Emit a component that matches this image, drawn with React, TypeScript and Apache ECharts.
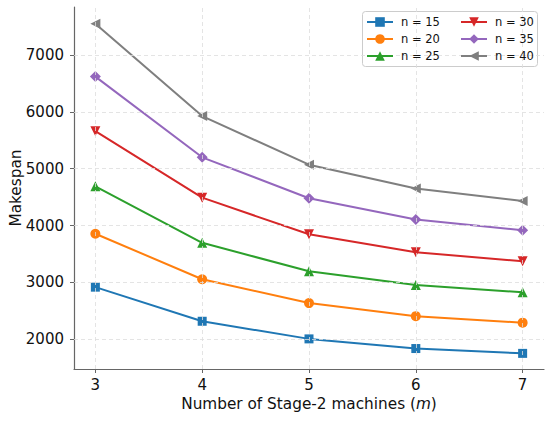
import React, { useEffect, useRef } from "react";
import * as echarts from "echarts";

const machines = [3, 4, 5, 6, 7];
const xTicks = [3, 4, 5, 6, 7];
const yTicks = [2000, 3000, 4000, 5000, 6000, 7000];

const n15 = [2915, 2315, 2005, 1835, 1750];
const n20 = [3855, 3055, 2635, 2405, 2290];
const n25 = [4690, 3695, 3195, 2955, 2825];
const n30 = [5660, 4490, 3845, 3530, 3370];
const n35 = [6620, 5200, 4480, 4105, 3915];
const n40 = [7550, 5925, 5070, 4650, 4430];

const seriesNames = ["n = 15", "n = 20", "n = 25", "n = 30", "n = 35", "n = 40"];
const seriesValues = [n15, n20, n25, n30, n35, n40];
const colors = ["#1f77b4", "#ff7f0e", "#2ca02c", "#d62728", "#9467bd", "#7f7f7f"];
const symbols = ["rect", "circle", "triangle", "triangle", "diamond", "triangle"];
const rotations = [0, 0, 0, 180, 0, 90];
const sizes = [9, 10, 10, 10, 11, 10];

const FONT = "DejaVu Sans";

export default function App() {
  const ref = useRef<HTMLDivElement>(null);
  useEffect(() => {
    if (!ref.current) return;
    const chart = echarts.init(ref.current, null, { renderer: "svg" });
    const gridStyle = { color: "#dddddd", type: [4, 3], width: 0.8 };
    const lineSeries = seriesNames.map((name, i) => ({
      name,
      type: "line",
      z: 3,
      data: machines.map((m, j) => [m, seriesValues[i][j]]),
      symbol: symbols[i],
      symbolSize: sizes[i],
      symbolRotate: rotations[i],
      showAllSymbol: true,
      lineStyle: { color: colors[i], width: 2 },
      itemStyle: { color: colors[i] },
      emphasis: { disabled: true },
    }));
    const legendBase = {
      orient: "vertical",
      top: 16,
      padding: 0,
      itemGap: 5,
      itemWidth: 26,
      itemHeight: 12,
      z: 10,
      selectedMode: false,
      textStyle: { fontFamily: FONT, fontSize: 11.5, color: "#111", padding: [0, 0, 0, 3] },
    };
    const option: any = {
      animation: false,
      textStyle: { fontFamily: FONT },
      grid: { left: 74, right: 6, top: 7, bottom: 52, containLabel: false, outerBoundsMode: "none" },
      graphic: [
        {
          type: "rect",
          z: 5,
          silent: true,
          shape: { x: 362.5, y: 11.5, width: 175, height: 55, r: 3 },
          style: { fill: "rgba(255,255,255,0.9)", stroke: "#cccccc", lineWidth: 1 },
        },
      ],
      xAxis: {
        type: "value",
        min: 2.8,
        max: 7.2,
        name: "Number of Stage-2 machines ({i|m})",
        nameLocation: "middle",
        nameGap: 27,
        nameTextStyle: {
          fontFamily: FONT,
          fontSize: 15.3,
          color: "#111",
          rich: { i: { fontStyle: "italic", fontFamily: FONT, fontSize: 15.3, color: "#111" } },
        },
        axisLine: { show: true, onZero: false, lineStyle: { color: "#666", width: 1.2 } },
        axisTick: { show: true, customValues: xTicks, length: 4, lineStyle: { color: "#666", width: 1 } },
        axisLabel: {
          customValues: xTicks,
          margin: 8,
          fontFamily: FONT,
          fontSize: 15,
          color: "#111",
          formatter: (v: number) => String(v),
        },
        splitLine: { show: false },
      },
      yAxis: {
        type: "value",
        min: 1475,
        max: 7845,
        name: "Makespan",
        nameLocation: "middle",
        nameGap: 51,
        nameMoveOverlap: false,
        nameTextStyle: { fontFamily: FONT, fontSize: 15.3, color: "#111" },
        axisLine: { show: true, onZero: false, lineStyle: { color: "#666", width: 1.2 } },
        axisTick: { show: true, customValues: yTicks, length: 4, lineStyle: { color: "#666", width: 1 } },
        axisLabel: {
          customValues: yTicks,
          margin: 10,
          fontFamily: FONT,
          fontSize: 15,
          color: "#111",
          formatter: (v: number) => String(Math.round(v)),
        },
        splitLine: { show: false },
      },
      legend: [
        { ...legendBase, left: 366, data: seriesNames.slice(0, 3) },
        { ...legendBase, left: 460, data: seriesNames.slice(3, 6) },
      ],
      series: [
        {
          name: "grid",
          type: "line",
          z: 1,
          data: [],
          silent: true,
          markLine: {
            silent: true,
            symbol: ["none", "none"],
            label: { show: false },
            lineStyle: gridStyle,
            emphasis: { disabled: true },
            data: [
              ...xTicks.map((v) => ({ xAxis: v })),
              ...yTicks.map((v) => ({ yAxis: v })),
            ],
          },
        },
        ...lineSeries,
      ],
    };
    chart.setOption(option);
    return () => chart.dispose();
  }, []);
  return (
    <div
      ref={ref}
      style={{ position: "fixed", left: 0, top: 0, width: 550, height: 421, background: "#fff" }}
    />
  );
}
